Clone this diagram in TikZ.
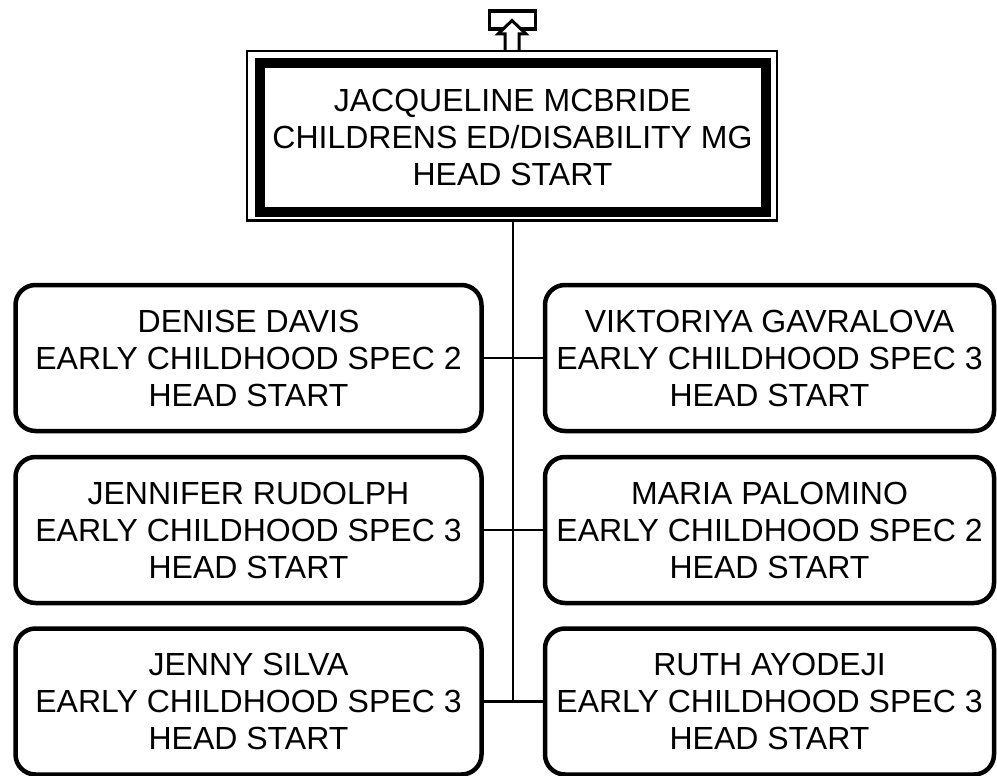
\documentclass[tikz,border=0pt]{standalone}
\usepackage{fontspec}
\setmainfont{Liberation Sans}
\begin{document}
\begin{tikzpicture}[x=1pt,y=-1pt,
  every node/.style={inner sep=0pt,outer sep=0pt,align=center,
    font=\fontsize{32}{37}\selectfont},
  person/.style={draw,line width=4.5pt,rounded corners=20pt,
    minimum height=146pt},
  leftbox/.style={person,minimum width=466pt},
  rightbox/.style={person,minimum width=449pt},
  link/.style={line width=2.5pt}]
\useasboundingbox (0,0) rectangle (997,776);
% top box
\node[draw,line width=2.5pt,minimum width=530pt,minimum height=169.5pt] (topouter) at (512,135.75) {};
\node[draw,line width=10pt,minimum width=506pt,minimum height=148.5pt] (top) at (512.5,137.25)
  {JACQUELINE MCBRIDE\\CHILDRENS ED/DISABILITY MG\\HEAD START};
% up arrow marker
\node[draw,line width=3.3pt,minimum width=46pt,minimum height=18pt,fill=white] (marker) at (512.2,20) {};
\draw[line width=3pt,fill=white,line join=miter]
  (505,50) -- (505,34) -- (498,34) -- (512,20.5) -- (526,34) -- (519,34) -- (519,50);
% children
\node[leftbox] (l1) at (248.5,358) {DENISE DAVIS\\EARLY CHILDHOOD SPEC 2\\HEAD START};
\node[leftbox] (l2) at (248.5,530) {JENNIFER RUDOLPH\\EARLY CHILDHOOD SPEC 3\\HEAD START};
\node[leftbox] (l3) at (248.5,701.5) {JENNY SILVA\\EARLY CHILDHOOD SPEC 3\\HEAD START};
\node[rightbox] (r1) at (769.5,358) {VIKTORIYA GAVRALOVA\\EARLY CHILDHOOD SPEC 3\\HEAD START};
\node[rightbox] (r2) at (769.5,530) {MARIA PALOMINO\\EARLY CHILDHOOD SPEC 2\\HEAD START};
\node[rightbox] (r3) at (769.5,701.5) {RUTH AYODEJI\\EARLY CHILDHOOD SPEC 3\\HEAD START};
% connectors
\coordinate (jend) at (513,701.5);
\draw[link] (topouter.south -| jend) -- (jend);
\draw[link] (l1.east) -- (r1.west);
\draw[link] (l2.east) -- (r2.west);
\draw[link] (l3.east) -- (r3.west);
\end{tikzpicture}
\end{document}
